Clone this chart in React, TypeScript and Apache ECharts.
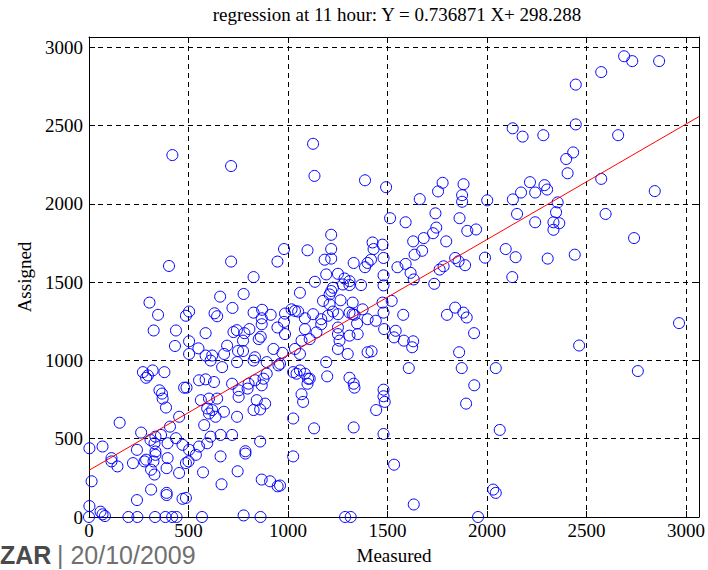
import React, { useEffect, useRef } from "react";
import * as echarts from "echarts";

const AXIS_MAX = 3065;
const TICKS = [0, 500, 1000, 1500, 2000, 2500, 3000];
const SLOPE = 0.736871;
const INTERCEPT = 298.288;
const TITLE = "regression at 11 hour: Y = 0.736871 X+ 298.288";
const X_NAME = "Measured";
const Y_NAME = "Assigned";

// upper part (Assigned > 2000)
const measuredTop = [2689, 2730, 2865, 2574, 2446, 2129, 2179, 2283, 2446, 2659, 2433, 2398, 2405, 2574, 2216, 2289, 2302, 2171, 2242, 2843, 2130, 2001, 1126, 1133, 1387, 1493, 1777, 1754, 1882, 1875, 1662, 419, 714, 2355, 1875];
const assignedTop = [2942, 2911, 2911, 2841, 2761, 2482, 2429, 2438, 2507, 2438, 2328, 2286, 2195, 2159, 2138, 2119, 2091, 2072, 2072, 2081, 2028, 2022, 2383, 2178, 2150, 2106, 2134, 2079, 2125, 2055, 2030, 2311, 2241, 2009, 2013];

// right-hand part (Measured > 1900)
const measuredRight = [2151, 2242, 2347, 2334, 2363, 2334, 2596, 2739, 1945, 2094, 1990, 2144, 2305, 2441, 2127, 2965, 2463, 1935, 2044, 2758, 2064, 2031, 2044];
const assignedRight = [1935, 1882, 1946, 1882, 1876, 1834, 1935, 1781, 1836, 1711, 1656, 1659, 1650, 1675, 1532, 1238, 1095, 1174, 951, 932, 556, 175, 154];

// middle part (Measured 1000 - 1900)
const measuredMid = [1862, 1741, 1513, 1591, 1745, 1729, 1682, 1629, 1795, 1901, 1674, 1636, 1217, 1098, 1217, 1425, 1430, 1475, 1480, 1417, 1400, 1387, 1184, 1217, 1330, 1550, 1591, 1616, 1632, 1735, 1762, 1782, 1840, 1857, 1890, 1192, 1251, 1135, 1284, 1309, 1367, 1309, 1276, 1226, 1217, 1209, 1480, 1480, 1060, 1176, 1209, 1264, 1325, 1375, 1309, 1325, 1334, 1475, 1521, 1480, 1226, 1251, 1201, 1167, 1126, 1085, 1018, 1035, 1051, 1085, 1143, 1109, 1068, 1167, 1251, 1251, 1259, 1309, 1350, 1347, 1400, 1441, 1483, 1541, 1533, 1582, 1629, 1579, 1799, 1840, 1881, 1898, 1035, 1060, 1251, 1300, 1400, 1420, 1624, 1860, 1026, 1043, 1060, 1085, 1101, 1109, 1098, 1192, 1197, 1068, 1076, 1026, 1131, 1026, 1309, 1330, 1334, 1330, 1480, 1480, 1486, 1443, 1480, 1533, 1632, 1607, 1873, 1936, 1895];
const assignedMid = [1908, 1939, 1908, 1882, 1848, 1812, 1781, 1760, 1760, 1827, 1700, 1675, 1802, 1703, 1711, 1753, 1711, 1739, 1654, 1643, 1622, 1595, 1643, 1650, 1622, 1595, 1616, 1559, 1517, 1489, 1580, 1601, 1654, 1633, 1608, 1549, 1553, 1502, 1523, 1506, 1481, 1481, 1485, 1464, 1443, 1421, 1543, 1479, 1432, 1380, 1358, 1384, 1369, 1326, 1305, 1295, 1291, 1369, 1380, 1305, 1312, 1295, 1285, 1263, 1295, 1269, 1326, 1316, 1312, 1200, 1179, 1136, 1126, 1231, 1210, 1168, 1126, 1158, 1168, 1236, 1263, 1253, 1200, 1189, 1147, 1126, 1122, 1291, 1291, 1337, 1305, 1274, 1073, 1041, 1073, 1041, 1052, 1058, 1084, 1052, 925, 915, 936, 915, 883, 883, 851, 989, 898, 784, 735, 629, 566, 387, 889, 851, 826, 572, 813, 771, 735, 683, 530, 334, 80, 951, 951, 841, 724];

// left part (Measured < 1000)
const measuredLeft = [402, 714, 827, 947, 980, 304, 347, 325, 437, 432, 503, 487, 503, 550, 586, 631, 644, 659, 721, 777, 827, 870, 913, 868, 868, 947, 985, 980, 985, 726, 743, 781, 806, 863, 853, 694, 774, 749, 774, 927, 972, 503, 586, 619, 679, 834, 611, 669, 744, 827, 893, 952, 271, 296, 287, 320, 379, 354, 367, 370, 387, 478, 490, 553, 586, 628, 562, 603, 644, 594, 619, 603, 636, 678, 744, 719, 752, 752, 802, 797, 835, 877, 893, 868, 843, 885, 827, 860, 453, 407, 362, 334, 154, 262, 309, 329, 334, 334, 324, 279, 241, 221, 312, 329, 395, 395, 390, 437, 470, 453, 487, 500, 503, 537, 553, 579, 594, 611, 661, 719, 661, 573, 747, 786, 786, 860, 868, 910, 948, 666, 312, 390, 390, 241, 470, 487, 13, 2, 68, 113, 113, 143, 287, 960, 960, 2, 58, 68, 80];
const assignedLeft = [1603, 1631, 1532, 1631, 1711, 1369, 1291, 1191, 1191, 1092, 1312, 1285, 1122, 1077, 1174, 1301, 1282, 1407, 1335, 1424, 1305, 1323, 1291, 1269, 1231, 1210, 1299, 1246, 1168, 1181, 1193, 1174, 1200, 1151, 1136, 1094, 1126, 1060, 1060, 1073, 1048, 1041, 1031, 1031, 1041, 1020, 999, 957, 989, 999, 989, 968, 925, 904, 889, 936, 925, 809, 788, 756, 699, 826, 826, 873, 879, 862, 746, 756, 756, 693, 683, 661, 640, 672, 640, 851, 809, 767, 851, 820, 873, 883, 915, 841, 746, 724, 683, 687, 640, 577, 524, 513, 602, 539, 492, 471, 418, 397, 355, 355, 429, 344, 302, 271, 471, 376, 312, 503, 461, 281, 344, 355, 429, 397, 450, 587, 471, 513, 524, 524, 387, 285, 292, 420, 405, 482, 239, 228, 196, 209, 175, 154, 140, 108, 116, 122, 228, 439, 450, 376, 355, 323, 366, 978, 201, 70, 34, 17, 6];

// points lying on the x axis (Assigned = 0)
const measuredZero = [0, 198, 243, 332, 384, 418, 440, 568, 777, 862, 1287, 1315, 1955];
const assignedZero = [0, 0, 0, 0, 0, 0, 0, 0, 10, 0, 0, 0, 0];

const measured = [...measuredTop, ...measuredRight, ...measuredMid, ...measuredLeft, ...measuredZero];
const assigned = [...assignedTop, ...assignedRight, ...assignedMid, ...assignedLeft, ...assignedZero];

const SERIF = "'Liberation Serif', 'Times New Roman', serif";
const SANS = "'Liberation Sans', Arial, sans-serif";

export default function App() {
  const ref = useRef<HTMLDivElement>(null);
  useEffect(() => {
    if (!ref.current) return;
    const chart = echarts.init(ref.current, null, { renderer: "svg" });
    const points = measured.map((x, i) => [x, assigned[i]]);
    const fmt = (v: number) => (TICKS.indexOf(v) >= 0 ? String(v) : "");
    const label = { formatter: fmt, fontSize: 19, fontFamily: SERIF, color: "#000" };
    const tick = { show: true, inside: true, length: 6, lineStyle: { color: "#000", width: 1 } };
    const line = { show: true, onZero: false, lineStyle: { color: "#000", width: 1 } };
    const split = { show: true, lineStyle: { type: [5, 4], color: "#000", width: 1 } };
    chart.setOption({
      animation: false,
      backgroundColor: "#fff",
      grid: { left: 89, right: 4, top: 37, bottom: 49 },
      xAxis: [
        {
          type: "value", min: 0, max: AXIS_MAX, interval: 500,
          name: X_NAME, nameLocation: "middle", nameGap: 29,
          nameTextStyle: { fontSize: 19, fontFamily: SERIF, color: "#000" },
          axisLine: line, axisTick: tick, axisLabel: { ...label, margin: 4 }, splitLine: split,
        },
        {
          type: "value", position: "top", min: 0, max: AXIS_MAX, interval: 500,
          axisLine: line, axisTick: tick, axisLabel: { show: false }, splitLine: { show: false },
        },
      ],
      yAxis: [
        {
          type: "value", min: 0, max: AXIS_MAX, interval: 500,
          name: Y_NAME, nameLocation: "middle", nameGap: 55,
          nameTextStyle: { fontSize: 19, fontFamily: SERIF, color: "#000" },
          axisLine: line, axisTick: tick, axisLabel: { ...label, margin: 6 }, splitLine: split,
        },
        {
          type: "value", position: "right", min: 0, max: AXIS_MAX, interval: 500,
          axisLine: line, axisTick: tick, axisLabel: { show: false }, splitLine: { show: false },
        },
      ],
      series: [
        {
          type: "scatter", data: points, symbol: "circle", symbolSize: 11, clip: false,
          itemStyle: { color: "transparent", borderColor: "#0000ff", borderWidth: 1, opacity: 1 },
        },
        {
          type: "line", symbol: "none",
          data: [[0, INTERCEPT], [AXIS_MAX, SLOPE * AXIS_MAX + INTERCEPT]],
          lineStyle: { color: "#ff0000", width: 1 },
        },
      ],
      graphic: [
        {
          type: "text", x: 397, y: 14,
          style: { text: TITLE, fontSize: 19, fontFamily: SERIF, fill: "#000", align: "center", verticalAlign: "middle" },
        },
        {
          type: "text", x: 0, y: 567,
          style: { text: "ZAR", fontSize: 25, fontWeight: "bold", fontFamily: SANS, fill: "#4a4a4a", align: "left", verticalAlign: "bottom" },
        },
        {
          type: "text", x: 57, y: 567,
          style: { text: "| 20/10/2009", fontSize: 25, fontFamily: SANS, fill: "#707070", align: "left", verticalAlign: "bottom" },
        },
      ],
    });
    return () => chart.dispose();
  }, []);
  return <div ref={ref} style={{ position: "fixed", left: 0, top: 0, width: 708, height: 570 }} />;
}
